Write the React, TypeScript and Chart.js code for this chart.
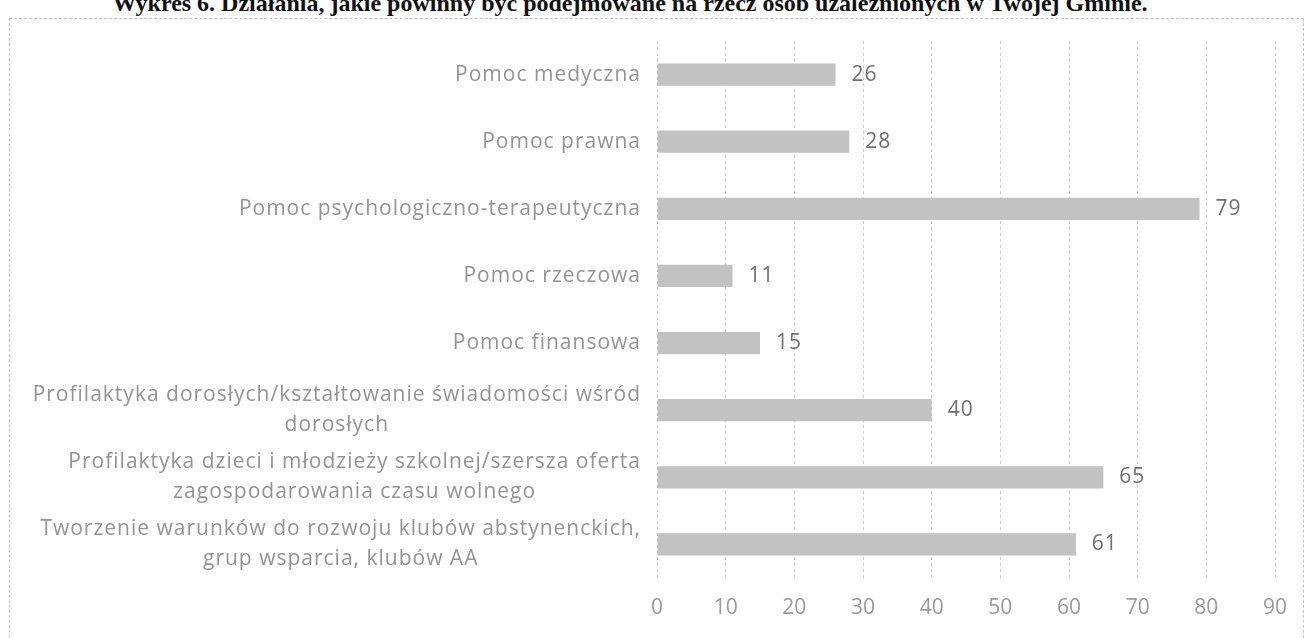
import React, { useEffect, useRef } from "react";
import { Chart, registerables } from "chart.js";

Chart.register(...registerables);

const titleText =
  "Wykres 6. Działania, jakie powinny być podejmowane na rzecz osób uzależnionych w Twojej Gminie.";

const categories: string[][] = [
  ["Pomoc medyczna"],
  ["Pomoc prawna"],
  ["Pomoc psychologiczno-terapeutyczna"],
  ["Pomoc rzeczowa"],
  ["Pomoc finansowa"],
  ["Profilaktyka dorosłych/kształtowanie świadomości wśród", "dorosłych"],
  ["Profilaktyka dzieci i młodzieży szkolnej/szersza oferta", "zagospodarowania czasu wolnego"],
  ["Tworzenie warunków do rozwoju klubów abstynenckich,", "grup wsparcia, klubów AA"],
];

const values: number[] = [26, 28, 79, 11, 15, 40, 65, 61];

const xMin = 0;
const xMax = 90;
const xStep = 10;

const LABEL_FONT = '21px "Open Sans", sans-serif';
const VALUE_FONT = '21px "Open Sans", sans-serif';

const categoryLabelPlugin = {
  id: "categoryLabels",
  afterDraw(chart: any) {
    const ctx = chart.ctx;
    const yScale = chart.scales.y;
    const rightEdge = chart.chartArea.left - 16;
    const lineHeight = 30;
    ctx.save();
    ctx.font = LABEL_FONT;
    (ctx as any).letterSpacing = "1px";
    ctx.fillStyle = "#949494";
    ctx.textAlign = "center";
    ctx.textBaseline = "middle";
    categories.forEach((lines, i) => {
      const y = yScale.getPixelForValue(i);
      const maxW = Math.max(...lines.map((l) => ctx.measureText(l).width));
      const cx = rightEdge - maxW / 2;
      const startY = y - ((lines.length - 1) * lineHeight) / 2;
      lines.forEach((line, j) => {
        ctx.fillText(line, cx, startY + j * lineHeight);
      });
    });
    ctx.restore();
  },
};

const valueLabelPlugin = {
  id: "valueLabels",
  afterDatasetsDraw(chart: any) {
    const ctx = chart.ctx;
    const meta = chart.getDatasetMeta(0);
    ctx.save();
    ctx.font = VALUE_FONT;
    (ctx as any).letterSpacing = "1px";
    ctx.fillStyle = "#707070";
    ctx.textAlign = "left";
    ctx.textBaseline = "middle";
    meta.data.forEach((bar: any, i: number) => {
      ctx.fillText(String(values[i]), bar.x + 16, bar.y);
    });
    ctx.restore();
  },
};

export default function App() {
  const canvasRef = useRef<HTMLCanvasElement | null>(null);

  useEffect(() => {
    if (!canvasRef.current) return;
    const chart = new Chart(canvasRef.current, {
      type: "bar",
      data: {
        labels: categories.map((c) => c.join(" ")),
        datasets: [
          {
            data: values,
            backgroundColor: "#c2c2c2",
            borderWidth: 0,
            categoryPercentage: 1,
            barPercentage: 0.33,
          },
        ],
      },
      options: {
        indexAxis: "y",
        responsive: false,
        animation: false,
        events: [],
        layout: { padding: { top: 41, right: 35, bottom: 0, left: 0 } },
        plugins: {
          legend: { display: false },
          tooltip: { enabled: false },
          title: { display: false },
        },
        scales: {
          y: {
            type: "category",
            ticks: { display: false },
            grid: { display: false },
            border: { display: false },
            afterFit: (s: any) => {
              s.width = 657;
            },
          },
          x: {
            type: "linear",
            position: "bottom",
            min: xMin,
            max: xMax,
            ticks: {
              stepSize: xStep,
              font: { family: '"Open Sans", sans-serif', size: 21 },
              color: "#9a9a9a",
              padding: 17,
            },
            grid: {
              color: "#cdcdcd",
              lineWidth: 1,
              drawTicks: false,
            },
            border: { display: false, dash: [3, 3] },
            afterFit: (s: any) => {
              s.height = 60;
            },
          },
        },
      },
      plugins: [categoryLabelPlugin, valueLabelPlugin],
    });
    return () => chart.destroy();
  }, []);

  return (
    <div
      style={{
        position: "fixed",
        left: 0,
        top: 0,
        width: 1310,
        height: 638,
        overflow: "hidden",
        background: "#ffffff",
      }}
    >
      <div
        style={{
          position: "absolute",
          left: 9,
          top: 18,
          width: 1295,
          height: 660,
          border: "1px dashed #c4c4c4",
          boxSizing: "border-box",
        }}
      />
      <div
        style={{
          position: "absolute",
          left: 0,
          top: -9,
          width: 1260,
          textAlign: "center",
          font: 'bold 24px "Liberation Serif", serif',
          lineHeight: "24px",
          color: "#111",
          whiteSpace: "nowrap",
        }}
      >
        {titleText}
      </div>
      <canvas
        ref={canvasRef}
        width={1310}
        height={638}
        style={{ position: "absolute", left: 0, top: 0 }}
      />
    </div>
  );
}
